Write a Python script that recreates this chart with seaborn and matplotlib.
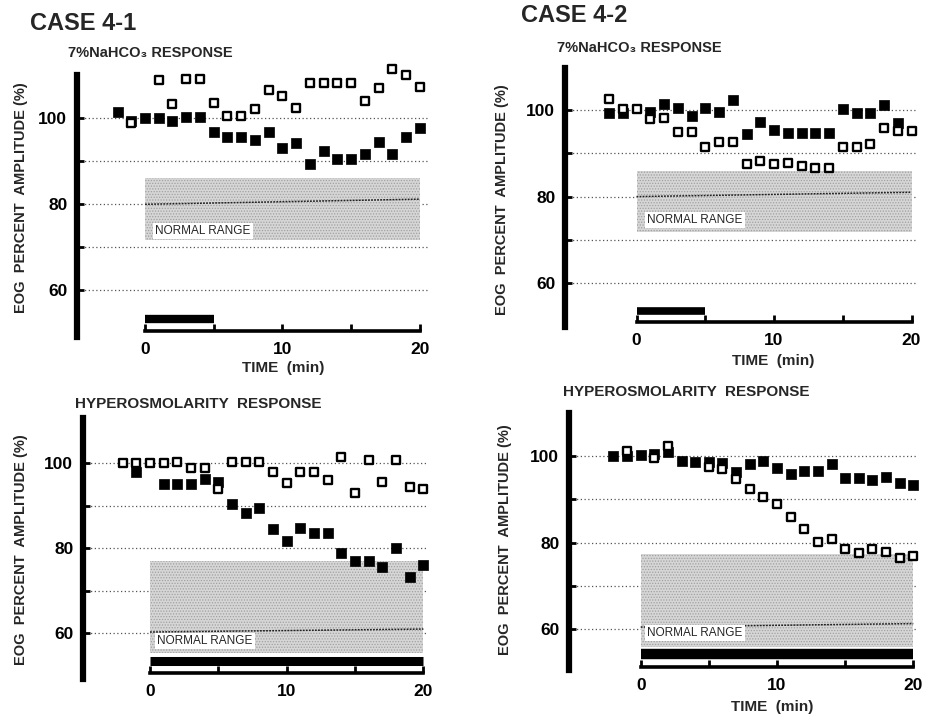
import numpy as np
import pandas as pd
import matplotlib
matplotlib.use("Agg")
import matplotlib.pyplot as plt
import seaborn as sns

nan = np.nan

# ---------------- data ----------------
time_min = list(range(-2, 21))

c1_nahco3_filled = [101.4, 99.4, 100.1, 100.1, 99.4, 100.4, 100.4, 96.7, 95.6, 95.7, 95.0, 96.9,
                    93.2, 94.2, 89.3, 92.4, 90.5, 90.5, 91.6, 94.6, 91.6, 95.7, 97.7]
c1_nahco3_open = [nan, 98.9, nan, 108.9, 103.3, 109.1, 109.1, 103.5, 100.5, 100.5, 102.2, 106.6,
                  105.2, 102.3, 108.3, 108.3, 108.3, 108.3, 104.1, 107.0, 111.4, 110.1, 107.2]

c2_nahco3_filled = [99.2, 99.2, nan, 99.6, 101.3, 100.4, 98.7, 100.5, 99.6, 102.3, 94.5, 97.3,
                    95.4, 94.8, 94.8, 94.8, 94.8, 100.2, 99.2, 99.3, 101.2, 96.9, nan]
c2_nahco3_open = [102.5, 100.2, 100.2, 97.9, 98.1, 95.0, 95.0, 91.4, 92.7, 92.7, 87.5, 88.2,
                  87.5, 87.7, 87.1, 86.5, 86.5, 91.4, 91.4, 92.2, 95.8, 95.2, 95.2]

c1_hyper_filled = [nan, 98.0, nan, 95.1, 95.1, 95.1, 96.3, 95.5, 90.4, 88.4, 89.4, 84.5,
                   81.7, 84.7, 83.7, 83.7, 78.8, 76.9, 76.9, 75.7, 80.0, 73.2, 76.1]
c1_hyper_open = [100.0, 100.0, 100.0, 100.0, 100.2, 98.8, 99.0, 94.0, 100.3, 100.3, 100.3, 98.0,
                 95.3, 98.0, 98.0, 96.1, 101.4, 93.1, 100.8, 95.5, 100.8, 94.5, 94.0]

c2_hyper_filled = [100.0, 100.0, 100.2, 100.5, 100.9, 98.8, 98.7, 98.7, 98.3, 96.4, 98.1, 98.9,
                   97.3, 95.8, 96.5, 96.5, 98.1, 95.0, 95.0, 94.5, 95.2, 93.7, 93.3]
c2_hyper_open = [nan, 101.2, nan, 99.5, 102.2, nan, nan, 97.5, 96.9, 94.7, 92.4, 90.5,
                 88.9, 86.0, 83.1, 80.2, 80.8, 78.5, 77.7, 78.5, 77.9, 76.4, 76.9]

# normal range (lower, upper) and normal mean line from 0 to 20 min
normal_t = [0, 20]
c1_nahco3_range = (71.7, 86.1)
c2_nahco3_range = (71.8, 85.8)
c1_hyper_range = (55.4, 76.9)
c2_hyper_range = (55.9, 77.4)
c1_nahco3_mean = [80.0, 81.2]
c2_nahco3_mean = [80.0, 81.0]
c1_hyper_mean = [60.3, 61.0]
c2_hyper_mean = [60.5, 61.3]

# stimulus periods (min)
stim_nahco3 = [0, 5]
stim_hyper = [0, 20]

case_titles = ["CASE 4-1", "CASE 4-2"]
panel_titles = ["7%NaHCO\u2083 RESPONSE", "HYPEROSMOLARITY  RESPONSE"]
ylabel_text = "EOG  PERCENT  AMPLITUDE (%)"
xlabel_text = "TIME  (min)"
normal_label = "NORMAL RANGE"

# ---------------- style ----------------
sns.set_theme(style="white")
plt.rcParams["font.family"] = ["Liberation Sans", "DejaVu Sans"]
plt.rcParams["hatch.linewidth"] = 0.6

W, H = 926, 717
fig = plt.figure(figsize=(W / 100, H / 100), dpi=100)


def fx(x):
    return x / W


def fy(y):
    return 1 - y / H


def make_panel(rect, xlim, ylim, spine_px, bar_px, bar_lw, filled, opened,
               nrange, nmean, stim):
    l, t, r, b = rect
    ax = fig.add_axes([l / W, 1 - b / H, (r - l) / W, (b - t) / H])
    hpx = b - t
    ax.set_xlim(*xlim)
    ax.set_ylim(*ylim)

    # normal range band (stippled)
    ax.fill_between(normal_t, [nrange[0]] * 2, [nrange[1]] * 2,
                    facecolor="#d6d6d6", edgecolor="#a0a0a0", hatch="......",
                    lw=0, zorder=1)
    ax.plot(normal_t, nmean, color="#222222", lw=1.1, ls=(0, (1.2, 0.8)), zorder=2)

    df = pd.DataFrame({"t": time_min, "filled": filled, "open": opened})
    sns.scatterplot(data=df, x="t", y="filled", marker="s", s=42, color="black",
                    edgecolor="black", linewidth=0.5, ax=ax, zorder=4, legend=False,
                    clip_on=False)
    sns.scatterplot(data=df, x="t", y="open", marker="s", s=34, color="white",
                    edgecolor="black", linewidth=1.7, ax=ax, zorder=5, legend=False,
                    clip_on=False)

    # stimulus bar
    bar_frac = (b - bar_px) / hpx
    ax.plot(stim, [bar_frac, bar_frac], color="black", lw=bar_lw, solid_capstyle="butt",
            transform=ax.get_xaxis_transform(), zorder=3, clip_on=False)

    # spines
    for s in ["top", "right"]:
        ax.spines[s].set_visible(False)
    ax.spines["left"].set_linewidth(4.5)
    ax.spines["left"].set_color("black")
    sp = ax.spines["bottom"]
    sp.set_visible(True)
    sp.set_linewidth(2.6)
    sp.set_edgecolor("black")
    sp.set_alpha(1)
    sp.set_position(("axes", (b - spine_px) / hpx))
    sp.set_bounds(0, 20)
    sp.set_zorder(6)

    ax.set_yticks([60, 80, 100])
    ax.set_yticks([70, 90], minor=True)
    ax.set_xticks([0, 10, 20])
    ax.set_xticks([5, 15], minor=True)
    ax.tick_params(axis="y", which="both", direction="in", length=5, width=2,
                   color="black", pad=7, labelsize=12.5, left=True)
    ax.tick_params(axis="x", which="both", direction="in", length=5, width=2,
                   color="black", pad=8, labelsize=12.5, bottom=True)
    for lab in ax.get_xticklabels() + ax.get_yticklabels():
        lab.set_fontweight("bold")
        lab.set_color("black")
    ax.grid(axis="y", which="both", ls=(0, (1, 2)), color="#555555", lw=0.9)
    ax.set_axisbelow(True)
    ax.set_xlabel("")
    ax.set_ylabel("")
    return ax


ax1 = make_panel((77, 75, 428, 337), (-4.95, 20.6), (49.14, 110.07), 331, 319, 6.0,
                 c1_nahco3_filled, c1_nahco3_open, c1_nahco3_range, c1_nahco3_mean, stim_nahco3)
ax2 = make_panel((565, 68, 917, 327), (-5.2, 20.4), (49.88, 109.7), 322, 311, 5.5,
                 c2_nahco3_filled, c2_nahco3_open, c2_nahco3_range, c2_nahco3_mean, stim_nahco3)
ax3 = make_panel((83, 418, 427.5, 679), (-4.9, 20.3), (49.25, 110.66), 673, 661, 6.5,
                 c1_hyper_filled, c1_hyper_open, c1_hyper_range, c1_hyper_mean, stim_hyper)
ax4 = make_panel((569, 413, 917.4, 670), (-5.26, 20.3), (50.58, 109.93), 667, 654, 7.5,
                 c2_hyper_filled, c2_hyper_open, c2_hyper_range, c2_hyper_mean, stim_hyper)

# ---------------- texts ----------------
fig.text(fx(30), fy(24), case_titles[0], fontsize=17, fontweight="bold", va="center", ha="left")
fig.text(fx(521), fy(16), case_titles[1], fontsize=17, fontweight="bold", va="center", ha="left")

fig.text(fx(68), fy(53), panel_titles[0], fontsize=10.5, fontweight="bold", va="center", ha="left")
fig.text(fx(557), fy(48), panel_titles[0], fontsize=10.5, fontweight="bold", va="center", ha="left")
fig.text(fx(75), fy(404), panel_titles[1], fontsize=11, fontweight="bold", va="center", ha="left")
fig.text(fx(563), fy(392), panel_titles[1], fontsize=11, fontweight="bold", va="center", ha="left")

for (x, y) in [(21, 198), (502, 200), (21, 550), (505, 540)]:
    fig.text(fx(x), fy(y), ylabel_text, fontsize=10.5, fontweight="bold", rotation=90,
             va="center", ha="center")

for (x, y) in [(283, 368), (773, 361), (772, 707)]:
    fig.text(fx(x), fy(y), xlabel_text, fontsize=11, fontweight="bold", va="center", ha="center")

for (x, y) in [(155, 231), (647, 220), (157, 641), (647, 633)]:
    fig.text(fx(x), fy(y), normal_label, fontsize=8.5, va="center", ha="left",
             bbox=dict(facecolor="white", edgecolor="none", pad=1.5))

fig.savefig("out.png", dpi=100, facecolor="white")
